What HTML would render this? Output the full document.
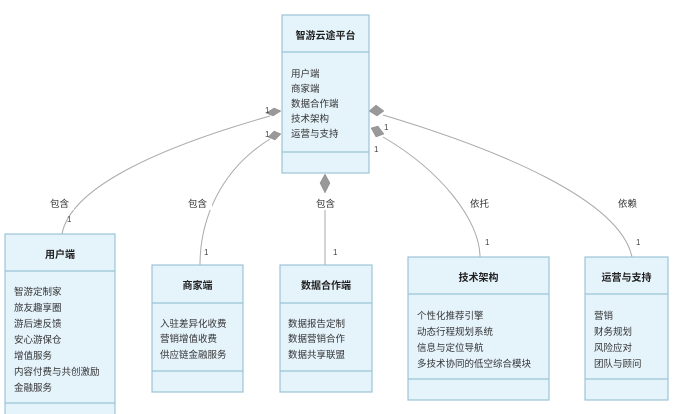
<!DOCTYPE html>
<html><head><meta charset="utf-8"><style>
body{margin:0;background:#fff;}
svg{display:block;font-family:"Liberation Sans","Noto Sans CJK SC",sans-serif;}
.b{fill:#e5f3fb;stroke:#9cc4d6;stroke-width:1.2}
.t{font-size:9.5px;fill:#333}
.h{font-size:10px;font-weight:bold;fill:#222}
.l{fill:none;stroke:#aaa;stroke-width:1}
.d{fill:#999;stroke:#888;stroke-width:.5}
.m{font-size:8px;fill:#444}
</style></head><body>
<svg width="680" height="414" viewBox="0 0 680 414">
<!-- connectors -->
<path class="l" d="M270,116 C150,150 70,190 62,234"/>
<path class="l" d="M270,139 C220,170 200,220 200,265"/>
<path class="l" d="M325,196 L325,265"/>
<path class="l" d="M383,137 C440,170 480,220 480,257"/>
<path class="l" d="M383,115 C500,150 620,200 632,257"/>
<polygon class="d" points="281,111 274,108 266,113 273,116"/>
<polygon class="d" points="281,134 274,131 268,137 275,140"/>
<polygon class="d" points="325,174 330,183 325,193 320,183"/>
<polygon class="d" points="369,111 376,105 384,111 377,116"/>
<polygon class="d" points="371,128 378,126 384,134 376,137"/>
<text class="m" x="265" y="113">1</text><text class="m" x="265" y="137">1</text>
<text class="m" x="315" y="202">1</text><text class="m" x="384" y="130">1</text><text class="m" x="374" y="152">1</text>
<text class="m" x="67" y="222">1</text><text class="m" x="204" y="255">1</text><text class="m" x="333" y="255">1</text>
<text class="m" x="485" y="245">1</text><text class="m" x="636" y="245">1</text>
<rect x="46" y="196" width="28" height="14" fill="#fff"/><text class="t" x="50" y="207">包含</text>
<rect x="184" y="196" width="28" height="14" fill="#fff"/><text class="t" x="188" y="207">包含</text>
<rect x="312" y="196" width="28" height="14" fill="#fff"/><text class="t" x="316" y="207">包含</text>
<rect x="466" y="196" width="28" height="14" fill="#fff"/><text class="t" x="470" y="207">依托</text>
<rect x="614" y="196" width="28" height="14" fill="#fff"/><text class="t" x="618" y="207">依赖</text>
<!-- top -->
<rect class="b" x="282" y="15" width="87" height="158"/>
<line class="b" x1="282" y1="52" x2="369" y2="52"/><line class="b" x1="282" y1="152" x2="369" y2="152"/>
<text class="h" x="325.5" y="39" text-anchor="middle">智游云途平台</text>
<text class="t" x="291" y="77">用户端</text><text class="t" x="291" y="92">商家端</text><text class="t" x="291" y="107">数据合作端</text><text class="t" x="291" y="122">技术架构</text><text class="t" x="291" y="137">运营与支持</text>
<!-- user -->
<rect class="b" x="5" y="234" width="110" height="190"/>
<line class="b" x1="5" y1="271" x2="115" y2="271"/><line class="b" x1="5" y1="403" x2="115" y2="403"/>
<text class="h" x="60" y="258" text-anchor="middle">用户端</text>
<text class="t" x="14" y="295">智游定制家</text><text class="t" x="14" y="311">旅友趣享圈</text><text class="t" x="14" y="327">游后速反馈</text><text class="t" x="14" y="343">安心游保仓</text><text class="t" x="14" y="359">增值服务</text><text class="t" x="14" y="375">内容付费与共创激励</text><text class="t" x="14" y="391">金融服务</text>
<!-- merchant -->
<rect class="b" x="152" y="265" width="91" height="127"/>
<line class="b" x1="152" y1="303" x2="243" y2="303"/><line class="b" x1="152" y1="371" x2="243" y2="371"/>
<text class="h" x="197.5" y="289" text-anchor="middle">商家端</text>
<text class="t" x="160" y="327">入驻差异化收费</text><text class="t" x="160" y="342">营销增值收费</text><text class="t" x="160" y="358">供应链金融服务</text>
<!-- data -->
<rect class="b" x="280" y="265" width="92" height="127"/>
<line class="b" x1="280" y1="303" x2="372" y2="303"/><line class="b" x1="280" y1="371" x2="372" y2="371"/>
<text class="h" x="326" y="289" text-anchor="middle">数据合作端</text>
<text class="t" x="288" y="327">数据报告定制</text><text class="t" x="288" y="342">数据营销合作</text><text class="t" x="288" y="358">数据共享联盟</text>
<!-- tech -->
<rect class="b" x="408" y="257" width="141" height="143"/>
<line class="b" x1="408" y1="294" x2="549" y2="294"/><line class="b" x1="408" y1="379" x2="549" y2="379"/>
<text class="h" x="478.5" y="281" text-anchor="middle">技术架构</text>
<text class="t" x="417" y="319">个性化推荐引擎</text><text class="t" x="417" y="335">动态行程规划系统</text><text class="t" x="417" y="351">信息与定位导航</text><text class="t" x="417" y="367">多技术协同的低空综合模块</text>
<!-- ops -->
<rect class="b" x="585" y="257" width="83" height="143"/>
<line class="b" x1="585" y1="294" x2="668" y2="294"/><line class="b" x1="585" y1="379" x2="668" y2="379"/>
<text class="h" x="626.5" y="281" text-anchor="middle">运营与支持</text>
<text class="t" x="594" y="319">营销</text><text class="t" x="594" y="335">财务规划</text><text class="t" x="594" y="351">风险应对</text><text class="t" x="594" y="367">团队与顾问</text>
</svg>
</body></html>
